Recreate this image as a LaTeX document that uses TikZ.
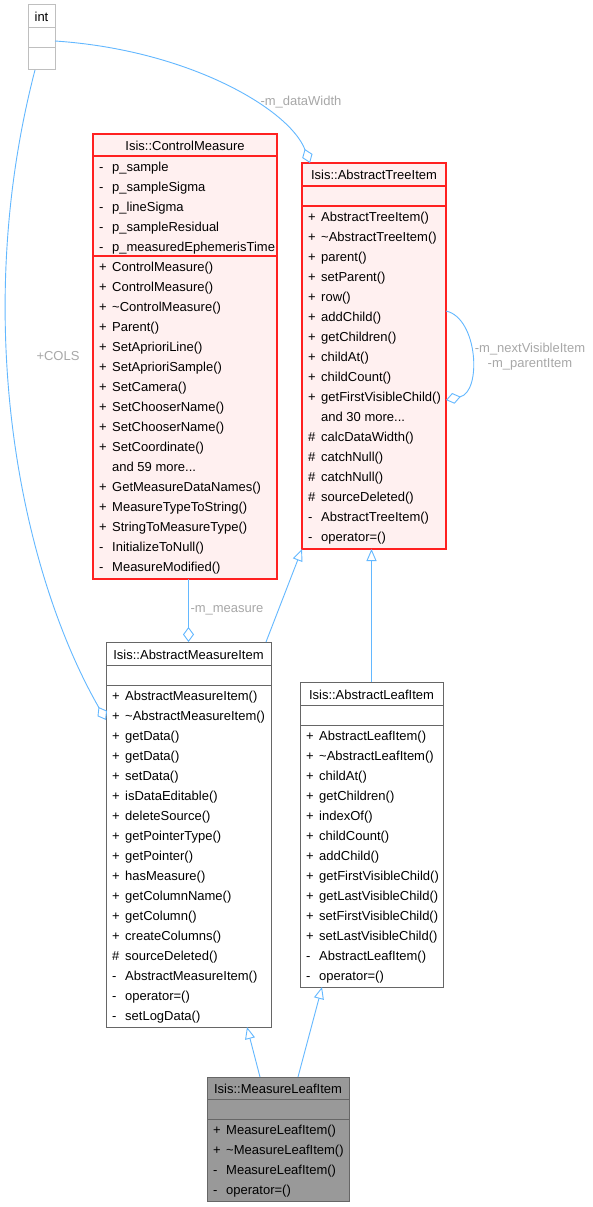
\documentclass[tikz,border=0pt]{standalone}
\usepackage{fontspec}
\setmainfont{Liberation Sans}
\usetikzlibrary{arrows.meta}
\definecolor{edgec}{HTML}{63B8FF}
\definecolor{lblc}{HTML}{A8A8A8}
\definecolor{redb}{HTML}{FF2020}
\definecolor{redf}{HTML}{FFF0F0}
\definecolor{grayb}{HTML}{666666}
\definecolor{intb}{HTML}{BFBFBF}
\definecolor{darkf}{HTML}{999999}
\newcommand\andmore[1]{and #1 more...}
\newcommand\mems[4]{%
  \foreach \p/\t [count=\i from 0] in {#4} {
    \node[mem] (#1p\i) at (#2+6, #3+5.3+20*\i) {\p};
    \node[mem] (#1t\i) at (#2+19, #3+5.3+20*\i) {\t};
  }}
\begin{document}
\begin{tikzpicture}[x=1pt,y=-1pt,
  txt/.style={font=\fontsize{13}{15}\selectfont, inner sep=0pt},
  mem/.style={txt, anchor=base west},
  ttl/.style={txt, anchor=base},
  lbl/.style={txt, text=lblc, align=center},
  box/.style={draw, line width=1pt, inner sep=0pt, outer sep=0pt},
  redbox/.style={box, draw=redb, fill=redf, line width=1.3pt},
  graybox/.style={box, draw=grayb, fill=white},
  edge/.style={draw=edgec, line width=0.9pt},
  agg/.style={edge, -{Diamond[open, length=15pt, width=11pt]}},
  inh/.style={edge, -{Triangle[open, length=12pt, width=10pt]}}]
\useasboundingbox (0,0) rectangle (592,1207);
\fill[white] (0,0) rectangle (592,1207);

% int
\node[box, draw=intb, fill=white, minimum width=27pt, minimum height=65pt] (int) at (41.5,37.5) {};
\draw[intb, line width=1pt] (28,28) -- (55,28) (28,48) -- (55,48);
\node[ttl] (intt) at (41.5,22) {int};

% ControlMeasure
\node[redbox, minimum width=184pt, minimum height=445pt] (cm) at (185,356.5) {};
\draw[redb, line width=1.3pt] (93,156) -- (277,156) (93,256) -- (277,256);
\node[ttl] (cmt) at (185,150.8) {Isis::ControlMeasure};
\mems{cma}{93}{166.5}{-/p\_sample, -/p\_sampleSigma, -/p\_lineSigma, -/p\_sampleResidual, -/p\_measuredEphemerisTime}
\mems{cmm}{93}{266}{+/ControlMeasure(), +/ControlMeasure(), +/\textasciitilde ControlMeasure(), +/Parent(), +/SetAprioriLine(), +/SetAprioriSample(), +/SetCamera(), +/SetChooserName(), +/SetChooserName(), +/SetCoordinate(), {}/\andmore{59}, +/GetMeasureDataNames(), +/MeasureTypeToString(), +/StringToMeasureType(), -/InitializeToNull(), -/MeasureModified()}

% AbstractTreeItem
\node[redbox, minimum width=144pt, minimum height=386pt] (atr) at (374,356) {};
\draw[redb, line width=1.3pt] (302,186) -- (446,186) (302,206) -- (446,206);
\node[ttl] (atrt) at (374,179.8) {Isis::AbstractTreeItem};
\mems{atm}{302}{216}{+/AbstractTreeItem(), +/\textasciitilde AbstractTreeItem(), +/parent(), +/setParent(), +/row(), +/addChild(), +/getChildren(), +/childAt(), +/childCount(), +/getFirstVisibleChild(), {}/\andmore{30}, \#/calcDataWidth(), \#/catchNull(), \#/catchNull(), \#/sourceDeleted(), -/AbstractTreeItem(), -/operator=()}

% AbstractMeasureItem
\node[graybox, minimum width=165pt, minimum height=385pt] (ami) at (188.5,834.5) {};
\draw[grayb, line width=1pt] (106,665) -- (271,665) (106,685) -- (271,685);
\node[ttl] (amit) at (188.5,659.3) {Isis::AbstractMeasureItem};
\mems{amm}{106}{695}{+/AbstractMeasureItem(), +/\textasciitilde AbstractMeasureItem(), +/getData(), +/getData(), +/setData(), +/isDataEditable(), +/deleteSource(), +/getPointerType(), +/getPointer(), +/hasMeasure(), +/getColumnName(), +/getColumn(), +/createColumns(), \#/sourceDeleted(), -/AbstractMeasureItem(), -/operator=(), -/setLogData()}

% AbstractLeafItem
\node[graybox, minimum width=143pt, minimum height=305pt] (ali) at (371.5,834.5) {};
\draw[grayb, line width=1pt] (300,705) -- (443,705) (300,725) -- (443,725);
\node[ttl] (alit) at (371.5,699.3) {Isis::AbstractLeafItem};
\mems{alm}{300}{735}{+/AbstractLeafItem(), +/\textasciitilde AbstractLeafItem(), +/childAt(), +/getChildren(), +/indexOf(), +/childCount(), +/addChild(), +/getFirstVisibleChild(), +/getLastVisibleChild(), +/setFirstVisibleChild(), +/setLastVisibleChild(), -/AbstractLeafItem(), -/operator=()}

% MeasureLeafItem
\node[box, draw=grayb, fill=darkf, minimum width=142pt, minimum height=124pt] (mli) at (278,1139) {};
\draw[grayb, line width=1pt] (207,1099) -- (349,1099) (207,1119) -- (349,1119);
\node[ttl] (mlit) at (278,1093.8) {Isis::MeasureLeafItem};
\mems{mlm}{207}{1129}{+/MeasureLeafItem(), +/\textasciitilde MeasureLeafItem(), -/MeasureLeafItem(), -/operator=()}

% connectors
\draw[agg] ([yshift=-3.5pt]int.east) .. controls (190,50) and (290,110) .. ([xshift=-64pt]atr.north);
\node[lbl] (lw) at (301,102) {-m\_dataWidth};

\draw[agg] ([xshift=-6.5pt]int.south) .. controls (-30,320) and (20,570) .. ([yshift=114.5pt]ami.west);
\node[lbl] (lc) at (58,356) {+COLS};

\draw[agg] (cm.south -| ami.north) -- (ami.north);
\node[lbl] (lm) at (227,610) {-m\_measure};

\draw[agg] ([yshift=45pt]atr.east) .. controls (478,318) and (482,392) .. ([yshift=-44pt]atr.east);
\node[lbl] (ln) at (530,357) {-m\_nextVisibleItem\\-m\_parentItem};

\draw[inh] ([xshift=-5pt]ami.north east) -- (atr.south west);
\draw[inh] (ali.north) -- (ali.north |- atr.south);
\draw[inh] ([xshift=-18pt]mli.north) -- ([xshift=58.5pt]ami.south);
\draw[inh] ([xshift=20pt]mli.north) -- ([xshift=-49.5pt]ali.south);
\end{tikzpicture}
\end{document}
